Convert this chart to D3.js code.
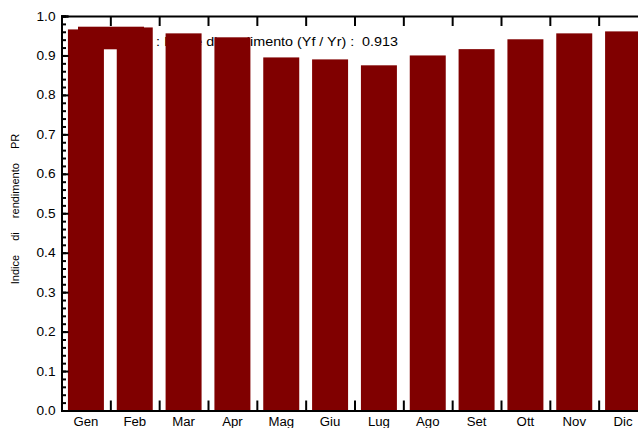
<!DOCTYPE html>
<html>
<head>
<meta charset="utf-8">
<script src="https://cdn.jsdelivr.net/npm/d3@7"></script>
<style>
  body { margin: 0; background: #fff; }
  svg { display: block; font-family: "Liberation Sans", Arial, sans-serif; }
</style>
</head>
<body>
<svg width="638" height="428"></svg>
<script>
// monthly performance ratio
const months = ['Gen', 'Feb', 'Mar', 'Apr', 'Mag', 'Giu', 'Lug', 'Ago', 'Set', 'Ott', 'Nov', 'Dic'];
const prValues = [0.966, 0.971, 0.956, 0.946, 0.895, 0.890, 0.875, 0.900, 0.916, 0.941, 0.956, 0.961];
const yTicks = [0, 0.1, 0.2, 0.3, 0.4, 0.5, 0.6, 0.7, 0.8, 0.9, 1.0];
const legendText = ': Indice di rendimento (Yf / Yr) :  0.913';
const yTitle = 'Indice  di  rendimento  PR';

const svg = d3.select('svg');
const plotLeft = 61.5, plotRight = 647.5, plotTop = 16, plotBottom = 410.5;

// the original plot font is a bit wider than Liberation Sans
function stretch(sel, factor) {
    sel.each(function () {
        const w = this.getComputedTextLength();
        d3.select(this)
            .attr('textLength', w * factor)
            .attr('lengthAdjust', 'spacingAndGlyphs');
    });
}

const x = d3.scaleBand()
    .domain(months)
    .range([plotLeft, plotRight])
    .paddingInner(0.263)
    .paddingOuter(0.1315);

// band edges for the ticks between months
const xEdge = d3.scaleLinear().domain([0, months.length]).range([plotLeft, plotRight]);

const y = d3.scaleLinear().domain([0, 1]).range([plotBottom, plotTop]);

const minorTicks = d3.range(0, 101, 2).map(d => d / 100);

// legend symbol and text (drawn under the bars)
svg.append('rect')
    .attr('x', 78)
    .attr('y', 26.7)
    .attr('width', 66)
    .attr('height', 22.6)
    .attr('fill', '#800000');

svg.append('text')
    .attr('x', 156)
    .attr('y', 45.5)
    .attr('font-size', 12)
    .attr('fill', '#000')
    .attr('textLength', 242)
    .attr('lengthAdjust', 'spacingAndGlyphs')
    .style('white-space', 'pre')
    .text(legendText);

// bars
svg.selectAll('.bar')
    .data(prValues)
    .enter().append('rect')
    .attr('class', 'bar')
    .attr('x', (d, i) => x(months[i]))
    .attr('y', d => y(d))
    .attr('width', x.bandwidth())
    .attr('height', d => y(0) - y(d))
    .attr('fill', '#800000');

// y axis, major ticks with labels
const yAxis = svg.append('g')
    .attr('transform', `translate(${plotLeft},0)`)
    .call(d3.axisLeft(y).tickValues(yTicks).tickFormat(d3.format('.1f')).tickSize(-7).tickPadding(6));
yAxis.selectAll('text').attr('font-size', 12.5).attr('fill', '#000').attr('font-family', null)
    .attr('textLength', 19).attr('lengthAdjust', 'spacingAndGlyphs');

// y axis minor ticks
svg.append('g')
    .attr('transform', `translate(${plotLeft},0)`)
    .call(d3.axisLeft(y).tickValues(minorTicks).tickFormat('').tickSize(-4.5));

// right side axis (mostly outside the window)
svg.append('g')
    .attr('transform', `translate(${plotRight},0)`)
    .call(d3.axisRight(y).tickValues(yTicks).tickFormat('').tickSize(-7));

// top axis: ticks between months
svg.append('g')
    .attr('transform', `translate(0,${plotTop})`)
    .call(d3.axisTop(xEdge).tickValues(d3.range(1, months.length)).tickFormat('').tickSize(-10));

// bottom axis: ticks between months
svg.append('g')
    .attr('transform', `translate(0,${plotBottom})`)
    .call(d3.axisBottom(xEdge).tickValues(d3.range(1, months.length)).tickFormat('').tickSize(-10));

// month labels
const xAxis = svg.append('g')
    .attr('transform', `translate(0,${plotBottom})`)
    .call(d3.axisBottom(x).tickSize(0).tickPadding(7));
xAxis.select('.domain').remove();
xAxis.selectAll('text').attr('font-size', 12).attr('fill', '#000').attr('font-family', null)
    .call(stretch, 1.1);

svg.selectAll('.domain, .tick line')
    .attr('stroke', '#000')
    .attr('stroke-width', 2);

// y axis title
svg.append('text')
    .attr('transform', `translate(19,209) rotate(-90)`)
    .attr('text-anchor', 'middle')
    .attr('font-size', 11)
    .attr('fill', '#000')
    .style('white-space', 'pre')
    .style('word-spacing', '4px')
    .text(yTitle);
</script>
</body>
</html>
